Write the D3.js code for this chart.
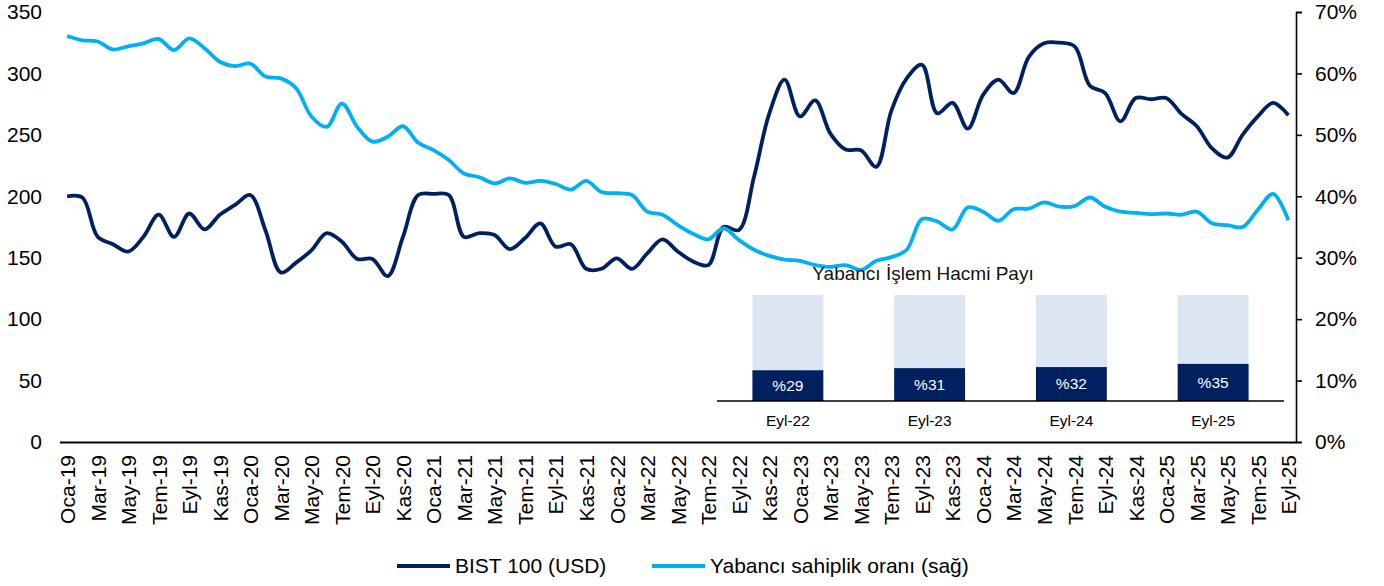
<!DOCTYPE html>
<html>
<head>
<meta charset="utf-8">
<script src="https://cdn.jsdelivr.net/npm/d3@7"></script>
<style>
  body { margin: 0; background: #fff; }
  svg { font-family: "Liberation Sans", Arial, sans-serif; }
</style>
</head>
<body>
<div id="chart"></div>
<script>
// month labels (Turkish), Oca-19 .. Eyl-25
var monthNames = ["Oca", "Şub", "Mar", "Nis", "May", "Haz", "Tem", "Ağu", "Eyl", "Eki", "Kas", "Ara"];
var years = ["19", "20", "21", "22", "23", "24", "25"];
var months = [];
years.forEach(function (yr) {
  monthNames.forEach(function (m) { months.push(m + "-" + yr); });
});
months = months.slice(0, 81);

// BIST 100 (USD), left axis
var bist = [200, 199, 167, 161, 155, 167, 185, 167, 186, 173, 185, 193,
            201, 172, 138, 146, 156, 170, 163, 149, 149, 135, 167, 201,
            202, 201, 167, 170, 168.5, 157, 166, 178, 159, 161, 141, 141,
            149.5, 141, 153.5, 165, 155, 147, 144, 175, 172.5, 216, 267.5, 295,
            265, 278, 251, 238, 237.5, 224, 270, 296, 307, 267.5, 276, 255,
            282.5, 295, 284, 313.5, 324.5, 325, 322, 290, 284, 261, 280, 279,
            280, 267, 257, 239, 231.5, 250, 265, 276, 266];

// Yabancı sahiplik oranı (%), right axis
var foreign = [66.1, 65.4, 65.2, 63.9, 64.4, 64.9, 65.6, 63.8, 65.7, 64.1, 61.9, 61.2,
               61.6, 59.5, 59.2, 57.6, 53.0, 51.3, 55.1, 51.3, 48.9, 49.7, 51.4, 48.7,
               47.5, 45.9, 43.7, 43.1, 42.1, 42.9, 42.2, 42.5, 42.0, 41.1, 42.5, 40.7,
               40.5, 40.2, 37.5, 37.0, 35.3, 33.9, 33.0, 34.8, 32.9, 31.3, 30.3, 29.7,
               29.5, 28.8, 28.5, 28.8, 28.0, 29.5, 30.1, 31.3, 36.3, 35.9, 34.6, 38.2,
               37.5, 36.0, 37.9, 38.0, 39.0, 38.3, 38.4, 39.8, 38.3, 37.5, 37.3, 37.1,
               37.2, 37.0, 37.5, 35.6, 35.3, 35.0, 37.8, 40.4, 36.1];

// inset: foreign trading volume share
var insetLabels = ["Eyl-22", "Eyl-23", "Eyl-24", "Eyl-25"];
var insetShare = [29, 31, 32, 35];

var leftTicks = [0, 50, 100, 150, 200, 250, 300, 350];
var rightTicks = [0, 10, 20, 30, 40, 50, 60, 70];

var navy = "#002060", sky = "#00B0F0", pale = "#DCE6F2";
const fontSize = 21;

var width = 1384, height = 586;
var svg = d3.select("#chart").append("svg")
  .attr("width", width)
  .attr("height", height);

var x = d3.scalePoint().domain(months).range([59.5, 1296]).padding(0.5);
var yL = d3.scaleLinear().domain([0, 350]).range([442, 12]);
var yR = d3.scaleLinear().domain([0, 70]).range([442, 12]);

// left axis (labels only)
var gL = svg.append("g").attr("transform", "translate(60,0)")
  .call(d3.axisLeft(yL).tickValues(leftTicks).tickSize(0).tickPadding(18));
gL.select(".domain").remove();
gL.selectAll("text").attr("font-size", fontSize).attr("fill", "#000").attr("font-family", null);

// right axis
var gR = svg.append("g").attr("transform", "translate(1296,0)")
  .call(d3.axisRight(yR).tickValues(rightTicks).tickSize(6).tickPadding(13)
        .tickFormat(function (d) { return d + "%"; }));
gR.select(".domain").attr("stroke", "#000").attr("stroke-width", 1.6);
gR.selectAll(".tick line").attr("stroke", "#000").attr("stroke-width", 1.6);
gR.selectAll("text").attr("font-size", fontSize).attr("fill", "#000").attr("font-family", null);

// bottom axis
var gX = svg.append("g").attr("transform", "translate(0,442)")
  .call(d3.axisBottom(x).tickValues(months.filter(function (d, i) { return i % 2 === 0; }))
        .tickSize(0).tickSizeOuter(0));
gX.select(".domain").attr("stroke", "#000").attr("stroke-width", 2);
gX.selectAll("text")
  .attr("font-size", fontSize).attr("fill", "#000").attr("font-family", null)
  .attr("transform", "rotate(-90)")
  .attr("x", -13).attr("y", 0).attr("dy", "0.35em")
  .style("text-anchor", "end");

// lines
var lineL = d3.line()
  .x(function (d, i) { return x(months[i]); })
  .y(function (d) { return yL(d); })
  .curve(d3.curveCatmullRom.alpha(0.5));
var lineR = d3.line()
  .x(function (d, i) { return x(months[i]); })
  .y(function (d) { return yR(d); })
  .curve(d3.curveCatmullRom.alpha(0.5));

svg.append("path").datum(bist)
  .attr("d", lineL).attr("fill", "none")
  .attr("stroke", navy).attr("stroke-width", 3.8).attr("stroke-linejoin", "round");
svg.append("path").datum(foreign)
  .attr("d", lineR).attr("fill", "none")
  .attr("stroke", sky).attr("stroke-width", 3.8).attr("stroke-linejoin", "round");

// inset bar chart
var xi = d3.scaleBand().domain(insetLabels).range([717, 1284]).paddingInner(0.5).paddingOuter(0.25);
var yi = d3.scaleLinear().domain([0, 100]).range([401, 295]);
var inset = svg.append("g");

inset.append("text")
  .attr("x", 923).attr("y", 273).attr("dy", "0.35em")
  .attr("text-anchor", "middle").attr("font-size", 19).attr("fill", "#111")
  .text("Yabancı İşlem Hacmi Payı");

inset.selectAll("rect.bg").data(insetLabels).enter().append("rect")
  .attr("class", "bg")
  .attr("x", function (d) { return xi(d); })
  .attr("width", xi.bandwidth())
  .attr("y", yi(100))
  .attr("height", yi(0) - yi(100))
  .attr("fill", pale);

inset.selectAll("rect.val").data(insetShare).enter().append("rect")
  .attr("class", "val")
  .attr("x", function (d, i) { return xi(insetLabels[i]); })
  .attr("width", xi.bandwidth())
  .attr("y", function (d) { return yi(d); })
  .attr("height", function (d) { return yi(0) - yi(d); })
  .attr("fill", navy);

inset.selectAll("text.val").data(insetShare).enter().append("text")
  .attr("class", "val")
  .attr("x", function (d, i) { return xi(insetLabels[i]) + xi.bandwidth() / 2; })
  .attr("y", function (d) { return (yi(d) + yi(0)) / 2; })
  .attr("dy", "0.35em")
  .attr("text-anchor", "middle").attr("font-size", 15.5).attr("fill", "#fff")
  .text(function (d) { return "%" + d; });

inset.append("line")
  .attr("x1", 717).attr("x2", 1284).attr("y1", yi(0)).attr("y2", yi(0))
  .attr("stroke", "#000").attr("stroke-width", 1.6);

inset.selectAll("text.cat").data(insetLabels).enter().append("text")
  .attr("class", "cat")
  .attr("x", function (d) { return xi(d) + xi.bandwidth() / 2; })
  .attr("y", 421).attr("dy", "0.35em")
  .attr("text-anchor", "middle").attr("font-size", 15.5).attr("fill", "#000")
  .text(function (d) { return d; });

// legend
var legend = [
  {name: "BIST 100 (USD)", color: navy, x: 397},
  {name: "Yabancı sahiplik oranı (sağ)", color: sky, x: 652}
];
var lg = svg.selectAll("g.legend").data(legend).enter().append("g")
  .attr("class", "legend")
  .attr("transform", function (d) { return "translate(" + d.x + ",566)"; });
lg.append("line").attr("x1", 0).attr("x2", 53).attr("y1", 0).attr("y2", 0)
  .attr("stroke", function (d) { return d.color; }).attr("stroke-width", 4);
lg.append("text").attr("x", 58).attr("dy", "0.35em")
  .attr("font-size", fontSize).attr("fill", "#000")
  .text(function (d) { return d.name; });
</script>
</body>
</html>
